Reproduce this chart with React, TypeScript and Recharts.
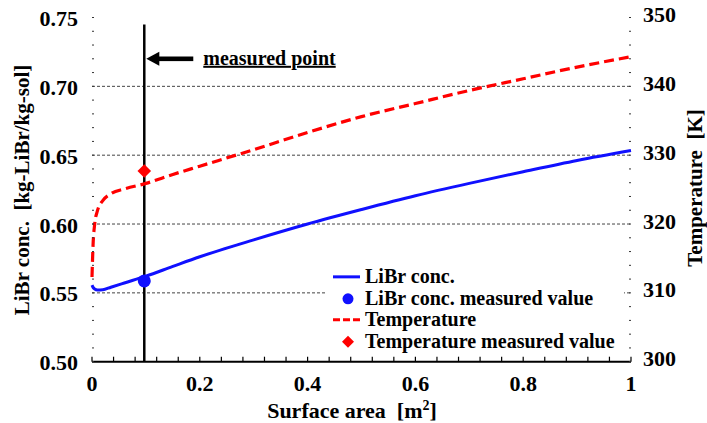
import React from 'react';
import {
  ComposedChart, Line, Scatter, XAxis, YAxis, ReferenceLine, ReferenceDot, Legend,
} from 'recharts';

// ---- data ----
const surfaceArea = [0, 0.002, 0.005, 0.01, 0.02, 0.035, 0.06, 0.1, 0.15, 0.2, 0.3, 0.4, 0.5, 0.6, 0.7, 0.8, 0.9, 1.0];
const librConc = [0.5556, 0.554, 0.5528, 0.552, 0.5522, 0.5541, 0.5572, 0.5621, 0.5692, 0.5762, 0.5885, 0.6, 0.6105, 0.6205, 0.6295, 0.638, 0.6462, 0.6534];
const temperature = [312.3, 317, 320, 321.9, 323.4, 324.4, 325.1, 325.9, 327.2, 328.4, 330.8, 333.3, 335.6, 337.5, 339.4, 341.1, 342.8, 344.3];

const measuredX = 0.097;
const measuredConc = 0.5587;
const measuredTemp = 327.7;

const xTicks = [0, 0.04, 0.08, 0.12, 0.16, 0.2, 0.24, 0.28, 0.32, 0.36, 0.4, 0.44, 0.48, 0.52, 0.56, 0.6, 0.64, 0.68, 0.72, 0.76, 0.8, 0.84, 0.88, 0.92, 0.96, 1];
const concTicks = [0.5, 0.51, 0.52, 0.53, 0.54, 0.55, 0.56, 0.57, 0.58, 0.59, 0.6, 0.61, 0.62, 0.63, 0.64, 0.65, 0.66, 0.67, 0.68, 0.69, 0.7, 0.71, 0.72, 0.73, 0.74, 0.75];
const tempTicks = [300, 302, 304, 306, 308, 310, 312, 314, 316, 318, 320, 322, 324, 326, 328, 330, 332, 334, 336, 338, 340, 342, 344, 346, 348, 350];
const gridValues = [0.55, 0.6, 0.65, 0.7];
const legendLabels = ['LiBr conc.', 'LiBr conc. measured value', 'Temperature', 'Temperature measured value'];

const chartData = surfaceArea.map((x, i) => ({ x, conc: librConc[i], temp: temperature[i] }));
const concPoint = [{ x: measuredX, conc: measuredConc }];
const tempPoint = [{ x: measuredX, temp: measuredTemp }];

const FONT = "'Liberation Serif', Tinos, 'Times New Roman', 'DejaVu Serif', serif";
const BLUE = '#1010ff';
const RED = '#ff0000';

const txt: React.CSSProperties = { fontFamily: FONT, fontWeight: 700, whiteSpace: 'pre' };

const isMult = (v: number, step: number) => Math.abs(v / step - Math.round(v / step)) < 1e-6;

const LeftTick = (props: any) => {
  const { x, y, payload } = props;
  const v = payload.value as number;
  if (!isMult(v, 0.05)) return <g />;
  return (
    <text x={x} y={y + 8.5} textAnchor="end" style={{ ...txt, fontSize: 22 }} fill="#000">
      {v.toFixed(2)}
    </text>
  );
};

const RightTick = (props: any) => {
  const { x, y, payload } = props;
  const v = payload.value as number;
  if (!isMult(v, 10)) return <g />;
  return (
    <text x={x} y={y + 4.5} textAnchor="start" style={{ ...txt, fontSize: 22 }} fill="#000">
      {String(v)}
    </text>
  );
};

const BottomTick = (props: any) => {
  const { x, y, payload } = props;
  const v = payload.value as number;
  if (!isMult(v, 0.2)) return <g />;
  return (
    <text x={x} y={y + 24.5} textAnchor="middle" style={{ ...txt, fontSize: 22 }} fill="#000">
      {String(v)}
    </text>
  );
};

const Circle = (props: any) => <circle cx={props.cx} cy={props.cy} r={6.5} fill={BLUE} />;
const Diamond = (props: any) => {
  const { cx, cy } = props;
  const h = 6.8;
  return <path d={`M${cx},${cy - h}L${cx + h},${cy}L${cx},${cy + h}L${cx - h},${cy}Z`} fill={RED} />;
};

const ArrowNote = (props: any) => {
  const { cx, cy } = props;
  return (
    <g>
      <path d={`M${cx + 2},${cy}L${cx + 15},${cy - 7}L${cx + 15},${cy + 7}Z`} fill="#000" />
      <rect x={cx + 14} y={cy - 2.3} width={35} height={4.6} fill="#000" />
      <text x={cx + 59} y={cy + 6} style={{ ...txt, fontSize: 20, textDecoration: 'underline' }} fill="#000">
        measured point
      </text>
    </g>
  );
};

const LegendIcon = ({ i }: { i: number }) => {
  const h = 21.7;
  const c = h / 2;
  return (
    <svg width={27} height={h} style={{ marginRight: 5, flex: 'none' }}>
      {i === 0 && <line x1={0} y1={c} x2={27} y2={c} stroke={BLUE} strokeWidth={3} />}
      {i === 1 && <circle cx={15} cy={c} r={5.5} fill={BLUE} />}
      {i === 2 && <line x1={0} y1={c} x2={27} y2={c} stroke={RED} strokeWidth={3} strokeDasharray="7 3" />}
      {i === 3 && <path d={`M15,${c - 6}L21,${c}L15,${c + 6}L9,${c}Z`} fill={RED} />}
    </svg>
  );
};

const LegendContent = () => (
  <div style={{ background: '#fff', paddingLeft: 7, width: 291, fontFamily: FONT, fontWeight: 700, fontSize: 20, color: '#000' }}>
    {legendLabels.map((label, i) => (
      <div key={label} style={{ display: 'flex', alignItems: 'center', height: 21.7, lineHeight: '21.7px', whiteSpace: 'nowrap' }}>
        <LegendIcon i={i} />
        <span>{label}</span>
      </div>
    ))}
  </div>
);

const LeftTitle = () => (
  <text transform="translate(22,190) rotate(-90)" textAnchor="middle" dominantBaseline="central"
    style={{ ...txt, fontSize: 21 }} fill="#000">
    {'LiBr conc.  [kg-LiBr/kg-sol]'}
  </text>
);

const RightTitle = () => (
  <text transform="translate(695,188) rotate(-90)" textAnchor="middle" dominantBaseline="central"
    style={{ ...txt, fontSize: 21 }} fill="#000">
    {'Temperature  [K]'}
  </text>
);

const BottomTitle = () => (
  <text x={352} y={418} textAnchor="middle" style={{ ...txt, fontSize: 22 }} fill="#000">
    {'Surface area  [m'}
    <tspan dy={-8} fontSize={14}>2</tspan>
    <tspan dy={8}>]</tspan>
  </text>
);

export default function App() {
  return (
    <div style={{ position: 'absolute', left: 0, top: 0, width: 707, height: 423, background: '#fff', fontFamily: FONT }}>
      <ComposedChart width={707} height={423} data={chartData} margin={{ top: 17.5, right: 0, bottom: 0, left: 0 }}>
        <XAxis
          dataKey="x" type="number" domain={[0, 1]} ticks={xTicks} interval={0}
          height={61.3} axisLine={{ stroke: '#000', strokeWidth: 2 }}
          tickLine={{ stroke: '#000', strokeWidth: 1.2 }} tickSize={-5} tickMargin={10}
          tick={<BottomTick />} label={{ content: () => <BottomTitle /> }}
        />
        <YAxis
          yAxisId="left" orientation="left" type="number" domain={[0.5, 0.75]} ticks={concTicks} interval={0}
          width={92} axisLine={false} tickLine={{ stroke: '#333', strokeWidth: 1 }} tickSize={-2} tickMargin={16}
          tick={<LeftTick />} label={{ content: () => <LeftTitle /> }}
        />
        <YAxis
          yAxisId="right" orientation="right" type="number" domain={[300, 350]} ticks={tempTicks} interval={0}
          width={76} axisLine={false} tickLine={{ stroke: '#333', strokeWidth: 1 }} tickSize={-2} tickMargin={14}
          tick={<RightTick />} label={{ content: () => <RightTitle /> }}
        />
        {gridValues.map((g) => (
          <ReferenceLine key={g} yAxisId="left" y={g} stroke="#444" strokeWidth={1} strokeDasharray="3 2" />
        ))}
        <ReferenceLine
          yAxisId="left"
          segment={[{ x: measuredX, y: 0.745 }, { x: measuredX, y: 0.5 }]}
          stroke="#000" strokeWidth={2.5}
        />
        <ReferenceDot yAxisId="left" x={measuredX} y={0.72} shape={<ArrowNote />} />
        <Line yAxisId="right" dataKey="temp" name="Temperature" type="monotone" stroke={RED} strokeWidth={3.2}
          strokeDasharray="10 5" dot={false} activeDot={false} isAnimationActive={false} />
        <Line yAxisId="left" dataKey="conc" name="LiBr conc." type="monotone" stroke={BLUE} strokeWidth={3}
          dot={false} activeDot={false} isAnimationActive={false} />
        <Scatter yAxisId="left" data={concPoint} dataKey="conc" name="LiBr conc. measured value" shape={<Circle />} isAnimationActive={false} />
        <Scatter yAxisId="right" data={tempPoint} dataKey="temp" name="Temperature measured value" shape={<Diamond />} isAnimationActive={false} />
        <Legend
          layout="vertical" align="center" verticalAlign="middle"
          content={() => <LegendContent />}
          wrapperStyle={{ position: 'absolute', left: 326, top: 266, width: 298, height: 87 }}
        />
      </ComposedChart>
    </div>
  );
}
